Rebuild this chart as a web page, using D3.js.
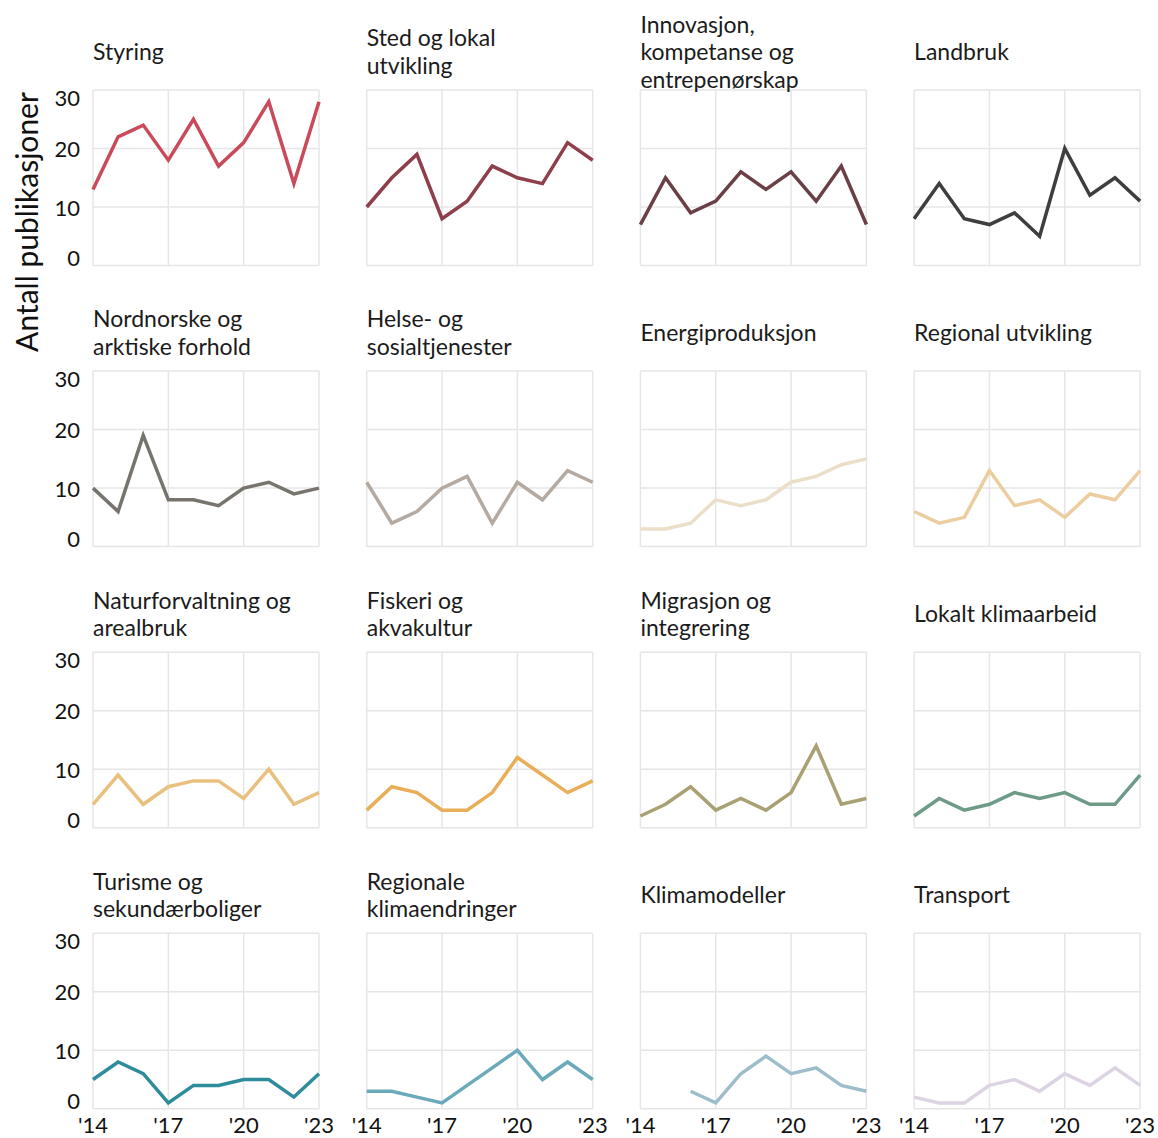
<!DOCTYPE html>
<html>
<head>
<meta charset="utf-8">
<script src="https://cdn.jsdelivr.net/npm/d3@7"></script>
<style>
  body { margin: 0; background: #fff; }
  svg { display: block; font-family: Lato, "Open Sans", sans-serif; }
</style>
</head>
<body>
<svg width="1158" height="1138"></svg>
<script>
const years = [2014, 2015, 2016, 2017, 2018, 2019, 2020, 2021, 2022, 2023];
const xTicks = [2014, 2017, 2020, 2023];
const yTicks = [0, 10, 20, 30];

const titles = [
    ["Styring"],
    ["Sted og lokal", "utvikling"],
    ["Innovasjon,", "kompetanse og", "entrepenørskap"],
    ["Landbruk"],
    ["Nordnorske og", "arktiske forhold"],
    ["Helse- og", "sosialtjenester"],
    ["Energiproduksjon"],
    ["Regional utvikling"],
    ["Naturforvaltning og", "arealbruk"],
    ["Fiskeri og", "akvakultur"],
    ["Migrasjon og", "integrering"],
    ["Lokalt klimaarbeid"],
    ["Turisme og", "sekundærboliger"],
    ["Regionale", "klimaendringer"],
    ["Klimamodeller"],
    ["Transport"]
];

const styring        = [13, 22, 24, 18, 25, 17, 21, 28, 14, 28];
const stedLokal      = [10, 15, 19, 8, 11, 17, 15, 14, 21, 18];
const innovasjon     = [7, 15, 9, 11, 16, 13, 16, 11, 17, 7];
const landbruk       = [8, 14, 8, 7, 9, 5, 20, 12, 15, 11];
const nordnorske     = [10, 6, 19, 8, 8, 7, 10, 11, 9, 10];
const helse          = [11, 4, 6, 10, 12, 4, 11, 8, 13, 11];
const energi         = [3, 3, 4, 8, 7, 8, 11, 12, 14, 15];
const regionalUtv    = [6, 4, 5, 13, 7, 8, 5, 9, 8, 13];
const naturforv      = [4, 9, 4, 7, 8, 8, 5, 10, 4, 6];
const fiskeri        = [3, 7, 6, 3, 3, 6, 12, 9, 6, 8];
const migrasjon      = [2, 4, 7, 3, 5, 3, 6, 14, 4, 5];
const lokaltKlima    = [2, 5, 3, 4, 6, 5, 6, 4, 4, 9];
const turisme        = [5, 8, 6, 1, 4, 4, 5, 5, 2, 6];
const regionaleKlima = [3, 3, 2, 1, 4, 7, 10, 5, 8, 5];
const klimamodeller  = [null, null, 3, 1, 6, 9, 6, 7, 4, 3];
const transport      = [2, 1, 1, 4, 5, 3, 6, 4, 7, 4];

const series = [styring, stedLokal, innovasjon, landbruk, nordnorske, helse, energi, regionalUtv,
    naturforv, fiskeri, migrasjon, lokaltKlima, turisme, regionaleKlima, klimamodeller, transport];

const colors = ["#c94a5a", "#8e3f4b", "#6a3f46", "#3e3e3e", "#77736d", "#b4aaa1", "#ecdfca", "#ebcd9f",
    "#e9c07e", "#e8ae58", "#a9a173", "#6e9a88", "#2f8c9b", "#6aaaba", "#9ebdcb", "#ddd4e3"];

const svg = d3.select("svg");

const left0 = 93, colStep = 273.7, panelW = 226;
const top0 = 90, rowStep = 281.1, panelH = 175.5;
const gridColor = "#e6e6e6";

const x = d3.scaleLinear().domain([2014, 2023]).range([0, panelW]);
const y = d3.scaleLinear().domain([0, 30]).range([panelH, 0]);

const line = d3.line()
    .defined(d => d.v != null)
    .x(d => x(d.year))
    .y(d => y(d.v));

series.forEach((values, i) => {
    const col = i % 4, row = Math.floor(i / 4);
    const g = svg.append("g")
        .attr("transform", `translate(${left0 + col * colStep},${top0 + row * rowStep})`);

    // grid
    g.selectAll("line.gx")
        .data(xTicks)
        .join("line")
        .attr("x1", d => x(d)).attr("x2", d => x(d))
        .attr("y1", 0).attr("y2", panelH)
        .attr("stroke", gridColor).attr("stroke-width", 1.5);
    g.selectAll("line.gy")
        .data(yTicks)
        .join("line")
        .attr("class", "gy")
        .attr("x1", 0).attr("x2", panelW)
        .attr("y1", d => y(d)).attr("y2", d => y(d))
        .attr("stroke", gridColor).attr("stroke-width", 1.5);

    // title
    const lines = titles[i];
    const mid = -38;
    g.append("text")
        .attr("fill", "#1b1b1b")
        .style("font-size", "23px")
        .selectAll("tspan")
        .data(lines)
        .join("tspan")
        .attr("x", 0)
        .attr("y", (d, k) => mid + (k - (lines.length - 1) / 2) * 27.5)
        .attr("dy", "0.35em")
        .text(d => d);

    // the line
    const pts = years.map((year, k) => ({ year, v: values[k] }));
    g.append("path")
        .datum(pts)
        .attr("fill", "none")
        .attr("stroke", colors[i])
        .attr("stroke-width", 3.5)
        .attr("stroke-linejoin", "miter")
        .attr("d", line);

    // y labels on first column
    if (col === 0) {
        g.selectAll("text.yl")
            .data(yTicks)
            .join("text")
            .attr("class", "yl")
            .attr("x", -13)
            .attr("y", d => y(d) + (d === 0 ? -7 : d === 30 ? 8 : 1))
            .attr("dy", "0.35em")
            .attr("text-anchor", "end")
            .attr("fill", "#111")
            .style("font-size", "22px")
            .text(d => d);
    }

    // x labels on bottom row
    if (row === 3) {
        g.selectAll("text.xl")
            .data(xTicks)
            .join("text")
            .attr("class", "xl")
            .attr("x", d => x(d))
            .attr("y", panelH + 17)
            .attr("dy", "0.35em")
            .attr("text-anchor", "middle")
            .attr("fill", "#111")
            .style("font-size", "22px")
            .text(d => "'" + String(d).slice(2));
    }
});

svg.append("text")
    .attr("transform", "translate(27,222) rotate(-90)")
    .attr("text-anchor", "middle")
    .attr("dy", "0.35em")
    .attr("fill", "#111")
    .style("font-size", "30px")
    .text("Antall publikasjoner");
</script>
</body>
</html>
